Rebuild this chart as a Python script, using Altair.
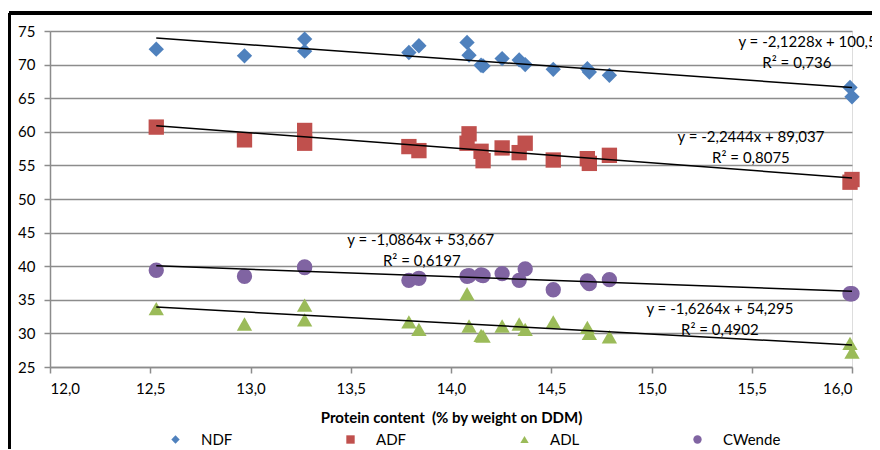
import altair as alt
import pandas as pd

# ---- data ----
protein = [12.53, 12.97, 13.27, 13.27, 13.79, 13.84, 14.08, 14.09, 14.15, 14.16,
           14.255, 14.34, 14.37, 14.51, 14.68, 14.69, 14.79, 15.99, 16.0]
ndf = [72.3, 71.3, 73.8, 72.0, 71.8, 72.8, 73.3, 71.4, 69.9, 69.8,
       70.9, 70.7, 70.0, 69.3, 69.4, 68.9, 68.4, 66.6, 65.2]
adf = [60.7, 58.8, 60.2, 58.3, 57.8, 57.2, 58.3, 59.7, 57.1, 55.7,
       57.6, 56.9, 58.3, 55.8, 56.0, 55.3, 56.5, 52.5, 52.9]
adl = [33.7, 31.4, 34.2, 32.0, 31.7, 30.6, 35.9, 31.1, 29.7, 29.6,
       31.1, 31.4, 30.6, 31.7, 30.9, 30.0, 29.5, 28.5, 27.2]
cwende = [39.4, 38.5, 39.9, 39.8, 37.9, 38.2, 38.5, 38.6, 38.7, 38.6,
          38.9, 37.9, 39.6, 36.5, 37.8, 37.4, 38.0, 35.9, 35.9]

series_names = ["NDF", "ADF", "ADL", "CWende"]
series_colors = ["#4F81BD", "#C0504D", "#9BBB59", "#8064A2"]
series_shapes = ["diamond", "square", "triangle-up", "circle"]

# trendline coefficients (from the chart labels)
slopes = [-2.1228, -2.2444, -1.6264, -1.0864]
intercepts = [100.55, 89.037, 54.295, 53.667]
eq_texts = ["y = -2,1228x + 100,55", "y = -2,2444x + 89,037",
            "y = -1,6264x + 54,295", "y = -1,0864x + 53,667"]
r2_texts = ["R² = 0,736", "R² = 0,8075", "R² = 0,4902", "R² = 0,6197"]
eq_x = [15.80, 15.496, 15.341, 13.849]
eq_y = [73.4, 59.2, 33.6, 43.85]
r2_x = [15.725, 15.496, 15.341, 13.854]
r2_y = [70.3, 56.05, 30.45, 40.7]

x_ticks = [12.0, 12.5, 13.0, 13.5, 14.0, 14.5, 15.0, 15.5, 16.0]
y_ticks = [25, 30, 35, 40, 45, 50, 55, 60, 65, 70, 75]
x_title = "Protein content \u00a0(% by weight on DDM)"

# ---- tables ----
values = {"NDF": ndf, "ADF": adf, "ADL": adl, "CWende": cwende}
rows = []
for s in series_names:
    for xv, yv in zip(protein, values[s]):
        rows.append({"series": s, "x": xv, "y": yv})
points = pd.DataFrame(rows)

trend_rows = []
for s, m, b in zip(series_names, slopes, intercepts):
    for xv in (min(protein), max(protein)):
        trend_rows.append({"series": s, "x": xv, "y": m * xv + b})
trend = pd.DataFrame(trend_rows)

labels = pd.DataFrame(
    [{"t": t, "x": xx, "y": yy} for t, xx, yy in zip(eq_texts, eq_x, eq_y)]
    + [{"t": t, "x": xx, "y": yy} for t, xx, yy in zip(r2_texts, r2_x, r2_y)]
)

FONT = "Lato"

xscale = alt.Scale(domain=[12, 16], nice=False, zero=False)
yscale = alt.Scale(domain=[25, 75], nice=False, zero=False)

x_enc = alt.X("x:Q", scale=xscale,
              axis=alt.Axis(values=x_ticks, grid=False, title=x_title,
                            labelExpr="replace(format(datum.value, '.1f'), '.', ',')",
                            tickSize=6, labelPadding=8, titlePadding=14,
                            domainColor="#8c8c8c", tickColor="#8c8c8c", domainWidth=1.5, tickWidth=1.5,
                            labelFontSize=15, titleFontSize=15, titleFontWeight="bold",
                            labelColor="#000", titleColor="#000", labelFont=FONT, titleFont=FONT))
y_enc = alt.Y("y:Q", scale=yscale,
              axis=alt.Axis(values=y_ticks, grid=True, title=None, tickSize=6, labelPadding=9,
                            labelOverlap=False,
                            gridColor="#8c8c8c", gridWidth=1.5,
                            domainColor="#8c8c8c", tickColor="#8c8c8c", domainWidth=1.5, tickWidth=1.5,
                            labelFontSize=15, labelColor="#000", labelFont=FONT))

pts = alt.Chart(points).mark_point(filled=True, opacity=1, strokeWidth=0, size=235).encode(
    x=x_enc, y=y_enc,
    color=alt.Color("series:N", scale=alt.Scale(domain=series_names, range=series_colors),
                    sort=series_names,
                    legend=alt.Legend(title=None, orient="none", direction="horizontal",
                                      legendX=118, legendY=401, gridAlign="none",
                                      columnPadding=110, labelOffset=18, symbolSize=70,
                                      labelFontSize=15, labelFont=FONT, labelColor="#000",
                                      symbolStrokeWidth=0)),
    shape=alt.Shape("series:N", scale=alt.Scale(domain=series_names, range=series_shapes),
                    sort=series_names),
)

lines = alt.Chart(trend).mark_line(color="black", strokeWidth=1.5).encode(
    x=x_enc, y=y_enc, detail="series:N")

txt = alt.Chart(labels).mark_text(font=FONT, fontSize=15, color="#000", align="center",
                                  baseline="middle").encode(x=x_enc, y=y_enc, text="t:N")

frame_top = alt.Chart(points).mark_rule(color="black", strokeWidth=3).encode(
    x=alt.value(-41), x2=alt.value(840), y=alt.value(-18))
frame_left = alt.Chart(points).mark_rule(color="black", strokeWidth=3).encode(
    x=alt.value(-41), y=alt.value(-18), y2=alt.value(430))

chart = alt.layer(pts, lines, txt, frame_top, frame_left).properties(
    width=802, height=336,
    autosize=alt.AutoSizeParams(type="none"),
    padding={"left": 42, "top": 23, "right": 20, "bottom": 82},
).configure_view(stroke=None).configure(background="white")

chart.save("out.html", embed_options={"renderer": "svg", "actions": False})
